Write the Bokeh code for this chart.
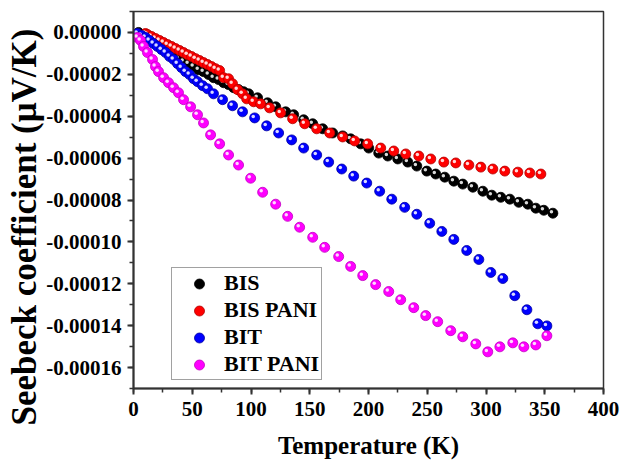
from bokeh.plotting import figure
from bokeh.models import (Range1d, SingleIntervalTicker, PrintfTickFormatter,
                          Legend, LegendItem, ColumnDataSource, Title)
from bokeh.transform import dodge
from bokeh.embed import file_html
from bokeh.resources import INLINE

# ---- data (Temperature in K, Seebeck coefficient in units of 1e-5 uV/K) ----
bis_T = [4.3, 8.5, 12.8, 17.0, 21.3, 25.6, 29.8, 34.1, 38.3, 42.6, 46.8, 51.1, 55.4,
         59.6, 63.9, 68.1, 72.4, 76.7, 80.9, 85.2, 89.4, 93.7, 98.0, 105.6, 114.1,
         121.0, 129.5, 136.3, 144.8, 152.5, 161.0, 169.5, 178.0, 184.8, 193.4, 200.2,
         208.7, 216.4, 224.9, 233.4, 241.1, 249.6, 257.2, 264.9, 272.6, 280.2, 288.8,
         297.3, 304.9, 312.6, 320.3, 327.9, 335.6, 342.4, 349.2, 356.9]
bis_S = [0, -0.14, -0.34, -0.48, -0.62, -0.82, -0.96, -1.10, -1.25, -1.39, -1.49, -1.63,
         -1.78, -1.87, -2.01, -2.16, -2.25, -2.40, -2.49, -2.64, -2.73, -2.83, -2.93,
         -3.12, -3.36, -3.55, -3.79, -3.93, -4.17, -4.36, -4.60, -4.80, -4.94, -5.08,
         -5.32, -5.52, -5.76, -5.90, -6.04, -6.19, -6.38, -6.62, -6.76, -6.91, -7.10,
         -7.24, -7.39, -7.58, -7.77, -7.87, -7.96, -8.11, -8.20, -8.39, -8.49, -8.63]

bispani_T = [10.2, 11.9, 15.3, 18.7, 22.1, 25.6, 29.0, 32.4, 35.8, 39.2, 42.6, 46.0, 49.4,
             52.8, 56.2, 59.6, 63.0, 66.4, 69.8, 73.3, 76.7, 80.9, 84.3, 88.6, 92.8, 96.3,
             102.2, 108.2, 115.8, 125.2, 135.4, 145.7, 155.9, 167.0, 178.0, 188.2, 199.3,
             210.4, 221.5, 231.7, 242.8, 253.0, 264.1, 274.3, 285.4, 295.6, 305.8, 316.0,
             327.1, 337.3, 346.7]
bispani_S = [-0.05, -0.10, -0.19, -0.29, -0.38, -0.48, -0.58, -0.67, -0.77, -0.86, -0.96,
             -1.06, -1.15, -1.25, -1.34, -1.44, -1.53, -1.63, -1.73, -1.82, -2.16, -2.21,
             -2.45, -2.73, -2.93, -3.17, -3.31, -3.41, -3.60, -3.84, -4.12, -4.36, -4.60,
             -4.80, -4.99, -5.18, -5.32, -5.52, -5.66, -5.80, -5.90, -6.04, -6.19, -6.23,
             -6.33, -6.43, -6.52, -6.62, -6.67, -6.71, -6.76]

bit_T = [3.4, 6.8, 10.2, 13.6, 17.0, 20.4, 23.9, 27.3, 30.7, 34.1, 37.5, 40.9, 44.3, 47.7,
         51.1, 54.5, 58.8, 63.0, 68.1, 75.8, 84.3, 92.8, 103.1, 113.3, 123.5, 134.6, 144.8,
         155.9, 166.1, 177.2, 187.4, 198.5, 209.5, 219.8, 230.8, 241.1, 252.1, 262.4,
         272.6, 283.6, 293.9, 304.1, 314.3, 324.5, 334.8, 344.1, 351.8]
bit_S = [-0.05, -0.14, -0.24, -0.38, -0.53, -0.67, -0.82, -0.96, -1.15, -1.29, -1.49,
         -1.68, -1.87, -2.01, -2.21, -2.35, -2.54, -2.69, -2.93, -3.21, -3.50, -3.79,
         -4.08, -4.46, -4.80, -5.13, -5.52, -5.85, -6.19, -6.52, -6.86, -7.19, -7.58,
         -7.96, -8.35, -8.68, -9.11, -9.50, -9.88, -10.41, -10.84, -11.46, -11.75,
         -12.57, -13.24, -13.91, -14.01]

bitpani_T = [3.4, 6.0, 8.5, 11.9, 16.2, 18.7, 21.3, 25.6, 29.8, 34.1, 38.3, 42.6, 48.6,
             54.5, 59.6, 65.6, 73.3, 80.9, 89.4, 99.7, 109.9, 121.0, 131.2, 141.4, 152.5,
             162.7, 174.6, 184.8, 195.1, 206.1, 217.2, 227.4, 238.5, 248.7, 258.9, 270.0,
             280.2, 291.3, 301.5, 311.8, 322.8, 332.2, 342.4, 351.8]
bitpani_S = [-0.24, -0.38, -0.67, -0.96, -1.29, -1.63, -1.87, -2.16, -2.40, -2.64, -2.88,
             -3.21, -3.55, -3.93, -4.32, -4.89, -5.32, -5.85, -6.33, -6.96, -7.63, -8.20,
             -8.78, -9.30, -9.78, -10.26, -10.70, -11.17, -11.61, -12.04, -12.37, -12.76,
             -13.14, -13.52, -13.81, -14.24, -14.53, -14.87, -15.25, -15.01, -14.82,
             -15.01, -14.92, -14.48]

series_names = ["BIS", "BIS PANI", "BIT", "BIT PANI"]
x_title = "Temperature (K)"
y_title = "Seebeck coefficient (\u03bcV/K)"
UNIT = 1e-5

FONT = "Liberation Serif"

p = figure(width=621, height=461,
           x_range=Range1d(0, 400), y_range=Range1d(-0.00017, 0.00001),
           output_backend="svg", toolbar_location=None,
           min_border_left=133, min_border_right=18,
           min_border_top=11, min_border_bottom=73)

p.xgrid.visible = False
p.ygrid.visible = False
p.background_fill_color = "white"
p.border_fill_color = "white"
p.outline_line_color = "#333333"
p.outline_line_width = 1.5

p.xaxis.ticker = SingleIntervalTicker(interval=50, num_minor_ticks=2)
p.yaxis.ticker = SingleIntervalTicker(interval=0.00002, num_minor_ticks=2)
p.yaxis.formatter = PrintfTickFormatter(format="%.5f")

for ax in (p.xaxis, p.yaxis):
    ax.axis_line_width = 2
    ax.axis_line_color = "#333333"
    ax.major_tick_line_width = 2
    ax.major_tick_line_color = "#333333"
    ax.minor_tick_line_width = 1.5
    ax.minor_tick_line_color = "#333333"
    ax.major_tick_in = 0
    ax.major_tick_out = 6
    ax.minor_tick_in = 0
    ax.minor_tick_out = 4
    ax.major_label_text_font = FONT
    ax.major_label_text_font_style = "bold"
    ax.major_label_text_font_size = "21px"
    ax.major_label_text_color = "black"
    ax.axis_label_text_font = FONT
    ax.axis_label_text_font_style = "bold"
    ax.axis_label_text_color = "black"

p.xaxis.axis_label = x_title
p.xaxis.axis_label_text_font_size = "25px"
p.xaxis.axis_label_text_line_height = 0.9
p.xaxis.major_label_standoff = 7
p.yaxis.major_label_standoff = 6
p.xaxis.axis_label_standoff = 13

# y title as a side title so it can sit slightly below the frame centre
ytitle = Title(text=y_title, align="left", offset=-37,
               text_font=FONT, text_font_style="bold", text_font_size="35px",
               text_color="black", standoff=0, text_line_height=1.0)
p.add_layout(ytitle, "left")

styles = [("#000000", "#000000"), ("#ff0000", "#b00000"),
          ("#0000ff", "#0000a0"), ("#ff00ff", "#c000c0")]
datasets = [(bis_T, bis_S), (bispani_T, bispani_S), (bit_T, bit_S), (bitpani_T, bitpani_S)]

items = []
for name, (T, S), (fc, lc) in zip(series_names, datasets, styles):
    src = ColumnDataSource(dict(x=T, y=[v * UNIT for v in S]))
    r = p.scatter("x", "y", source=src, size=10, fill_color=fc, line_color=lc,
                  line_width=0.8)
    p.scatter(dodge("x", -1.2, range=p.x_range), dodge("y", 7e-7, range=p.y_range),
              source=src, size=3.5, fill_color="white", fill_alpha=0.85, line_alpha=0)
    items.append(LegendItem(label=name, renderers=[r]))

legend = Legend(items=items, location=(38, 8))
legend.label_text_font = FONT
legend.label_text_font_style = "bold"
legend.label_text_font_size = "22px"
legend.label_text_color = "black"
legend.border_line_color = "#444444"
legend.border_line_width = 1
legend.background_fill_alpha = 1
legend.padding = 2
legend.spacing = 1
legend.label_height = 25
legend.glyph_height = 25
legend.glyph_width = 50
legend.label_standoff = 0
legend.margin = 0
p.add_layout(legend)

open("out.html", "w").write(file_html(p, INLINE))
